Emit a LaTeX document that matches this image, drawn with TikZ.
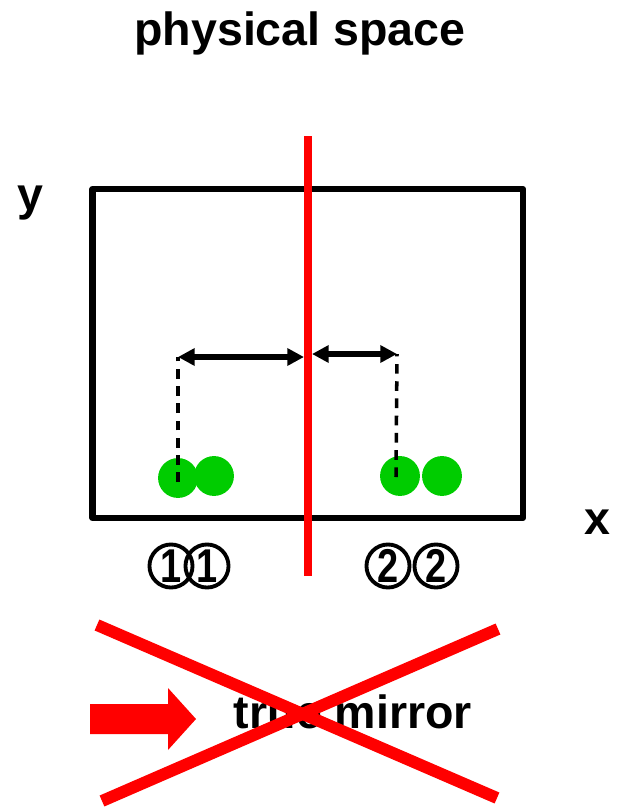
\documentclass[tikz,border=0pt]{standalone}
\usepackage{fontspec}
\setmainfont{Liberation Sans}
\usetikzlibrary{arrows.meta}
\definecolor{ballgreen}{RGB}{0,204,0}
\tikzset{
  bigtext/.style={font=\bfseries\fontsize{26.5}{30}\selectfont},
  ball/.style={circle, fill=ballgreen, minimum size=22.7pt, inner sep=0pt},
  num/.style={circle, draw, line width=2.2pt, minimum size=24.5pt, inner sep=0pt,
    font=\bfseries\fontsize{27}{28}\selectfont},
  guide/.style={line width=2pt, dash pattern=on 5.5pt off 4.3pt},
  dist/.style={line width=3.2pt, <->},
  mirror/.style={red, line width=4.3pt},
  cross/.style={red, line width=6.8pt}
}
\begin{document}
\begin{tikzpicture}[x=0.02cm, y=-0.02cm, line join=round, >={Triangle[length=9.5pt,width=9.5pt]}]
\useasboundingbox (0,0) rectangle (616,808);
\node[bigtext] (title) at (300,33) {physical space};
\node[bigtext] (ylab) at (30,203) {y};
\node[bigtext] (xlab) at (597,522) {x};
% box
\draw[line width=3.5pt] (92.5,189) rectangle (523,518);
% balls
\node[ball] (b1) at (178,478) {};
\node[ball] (b1p) at (214,476) {};
\node[ball] (b2) at (400,476) {};
\node[ball] (b2p) at (442,476) {};
% mirror line
\coordinate (mtop) at (308,136);
\coordinate (mbot) at (308,576);
\draw[mirror] (mtop) -- (mbot);
% distances
\coordinate (a1) at (178,357);
\coordinate (m1) at (304,357);
\coordinate (m2) at (312,354);
\coordinate (a2) at (397,354);
\coordinate (d1) at (178,482);
\coordinate (d2) at (396,477);
\draw[guide] (d1) -- (a1);
\draw[guide] (d2) -- (a2);
\draw[dist] (a1) -- (m1);
\draw[dist] (m2) -- (a2);
% labels
\node[num] (n1) at (171,566) {\scalebox{0.8}[1]{1}};
\node[num] (n1p) at (207,566) {\scalebox{0.8}[1]{1}};
\node[num] (n2) at (388,566) {\scalebox{0.8}[1]{2}};
\node[num] (n2p) at (436,566) {\scalebox{0.8}[1]{2}};
% crossed out
\node[bigtext] (tm) at (353,712) {true mirror};
\fill[red] (90,704) -- (168,704) -- (168,688) -- (196,719) -- (168,750) -- (168,734) -- (90,734) -- cycle;
\coordinate (c1) at (97,625);
\coordinate (c2) at (497,798);
\coordinate (c3) at (102,801);
\coordinate (c4) at (498,629);
\draw[cross] (c1) -- (c2);
\draw[cross] (c3) -- (c4);
\end{tikzpicture}
\end{document}
